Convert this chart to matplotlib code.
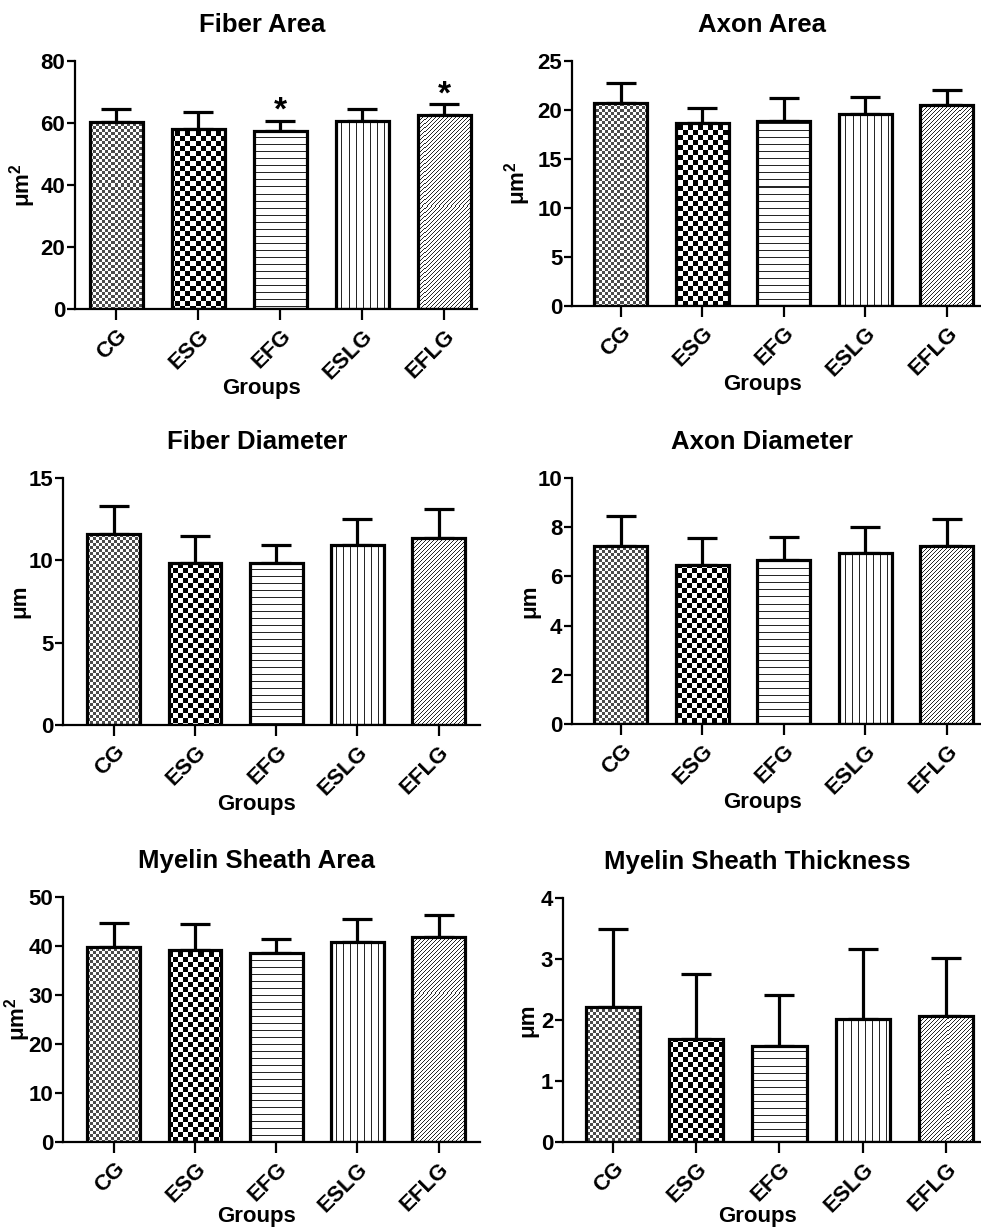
import numpy as np
import matplotlib
matplotlib.use("Agg")
import matplotlib.pyplot as plt

plt.rcParams['font.family'] = ['Liberation Sans', 'DejaVu Sans']
plt.rcParams['font.weight'] = 'bold'
plt.rcParams['mathtext.fontset'] = 'custom'
plt.rcParams['mathtext.rm'] = 'Liberation Sans:bold'
plt.rcParams['mathtext.bf'] = 'Liberation Sans:bold'
plt.rcParams['mathtext.it'] = 'Liberation Sans:bold'

groups = ['CG', 'ESG', 'EFG', 'ESLG', 'EFLG']

fiber_area = [60.4, 58.0, 57.5, 60.7, 62.6]
fiber_area_sd = [4.0, 5.5, 3.2, 3.7, 3.4]
axon_area = [20.7, 18.7, 18.9, 19.6, 20.5]
axon_area_sd = [2.1, 1.5, 2.3, 1.7, 1.5]
fiber_diam = [11.6, 9.83, 9.83, 10.93, 11.35]
fiber_diam_sd = [1.7, 1.62, 1.1, 1.57, 1.75]
axon_diam = [7.22, 6.45, 6.68, 6.96, 7.23]
axon_diam_sd = [1.22, 1.11, 0.92, 1.03, 1.10]
myelin_area = [39.7, 39.1, 38.5, 40.9, 41.9]
myelin_area_sd = [5.0, 5.4, 2.9, 4.7, 4.4]
myelin_thick = [2.21, 1.69, 1.58, 2.01, 2.06]
myelin_thick_sd = [1.28, 1.06, 0.83, 1.16, 0.96]

# significance stars (Fiber Area only)
fiber_area_stars = ['', '', '*', '', '*']

W, H = 981, 1228
fig = plt.figure(figsize=(W / 100, H / 100), dpi=100)

# title, means, sd, ymax, yticks, ylabel, axes box in px (l, t, r, b), xlim, ylabel x, xlabel y, stars
panels = [
    ('Fiber Area', fiber_area, fiber_area_sd, 80, np.arange(0, 81, 20), 'μm$^{2}$',
     (75, 61, 477, 309), (-0.506, 4.40), -0.092, -0.278, fiber_area_stars),
    ('Axon Area', axon_area, axon_area_sd, 25, np.arange(0, 26, 5), 'μm$^{2}$',
     (572, 61, 981, 306), (-0.595, 4.42), -0.095, -0.278, None),
    ('Fiber Diameter', fiber_diam, fiber_diam_sd, 15, np.arange(0, 16, 5), 'μm',
     (63, 478, 480, 725), (-0.626, 4.51), -0.079, -0.278, None),
    ('Axon Diameter', axon_diam, axon_diam_sd, 10, np.arange(0, 11, 2), 'μm',
     (572, 478, 981, 724), (-0.60, 4.42), -0.078, -0.278, None),
    ('Myelin Sheath Area', myelin_area, myelin_area_sd, 50, np.arange(0, 51, 10), 'μm$^{2}$',
     (63, 897, 480, 1142), (-0.626, 4.51), -0.072, -0.262, None),
    ('Myelin Sheath Thickness', myelin_thick, myelin_thick_sd, 4, np.arange(0, 5, 1), 'μm',
     (563, 898, 981, 1142), (-0.60, 4.42), -0.06, -0.262, None),
]


def pattern(kind, h, w):
    yy, xx = np.mgrid[0:h, 0:w]
    if kind == 'fine':
        return np.where(((yy // 3) + (xx // 3)) % 2 == 0, 0.3, 1.0)
    if kind == 'coarse':
        return np.where(((yy // 5) + (xx // 5)) % 2 == 0, 0.0, 1.0)
    if kind == 'hline':
        return np.where(yy % 7 == 0, 0.15, 1.0)
    if kind == 'vline':
        return np.where(xx % 7 == 0, 0.15, 1.0)
    return np.where((xx + yy) % 4 == 0, 0.15, 1.0)


fills = ['fine', 'coarse', 'hline', 'vline', 'diag']

for title, means, sd, ymax, yticks, ylab, box, xlim, ylx, xly, stars in panels:
    l, t, r, b = box
    ax = fig.add_axes([l / W, 1 - b / H, (r - l) / W, (b - t) / H])
    x = np.arange(len(groups))
    ax.set_xlim(*xlim)
    ax.set_ylim(0, ymax)

    bars = ax.bar(x, means, width=0.65, facecolor='none', edgecolor='black',
                  linewidth=2.3, zorder=3)
    for bar, kind in zip(bars, fills):
        im = ax.imshow(pattern(kind, b - t, r - l), extent=(xlim[0], xlim[1], 0, ymax),
                       aspect='auto', cmap='gray', vmin=0, vmax=1,
                       interpolation='nearest', zorder=2)
        im.set_clip_path(bar)

    ax.errorbar(x, means, yerr=[np.zeros(len(sd)), sd], fmt='none', ecolor='black',
                elinewidth=2.3, capsize=11, capthick=2.3, zorder=1)

    if stars:
        for xi, m, s, st in zip(x, means, sd, stars):
            if st:
                ax.text(xi, m + s + 1 * ymax / (b - t), st, ha='center', va='baseline',
                        fontsize=24, fontweight='bold')

    for side in ['top', 'right']:
        ax.spines[side].set_visible(False)
    for side in ['left', 'bottom']:
        ax.spines[side].set_linewidth(1.6)

    ax.set_yticks(yticks)
    ax.set_xticks(x)
    ax.set_xticklabels(groups, rotation=45, ha='right', va='top', rotation_mode='anchor')
    ax.tick_params(axis='y', length=6, width=1.6, labelsize=16, pad=1)
    ax.tick_params(axis='x', length=8, width=1.6, labelsize=16, pad=4)
    for lbl in ax.get_xticklabels() + ax.get_yticklabels():
        lbl.set_fontweight('bold')

    ax.set_title(title, fontsize=18.5, fontweight='bold', pad=21, x=0.465)
    ax.set_xlabel('Groups', fontsize=16, fontweight='bold')
    ax.xaxis.set_label_coords(0.465, xly)
    ax.set_ylabel(ylab, fontsize=16, fontweight='bold')
    ax.yaxis.set_label_coords(ylx, 0.5)

fig.savefig('out.png', dpi=100)
